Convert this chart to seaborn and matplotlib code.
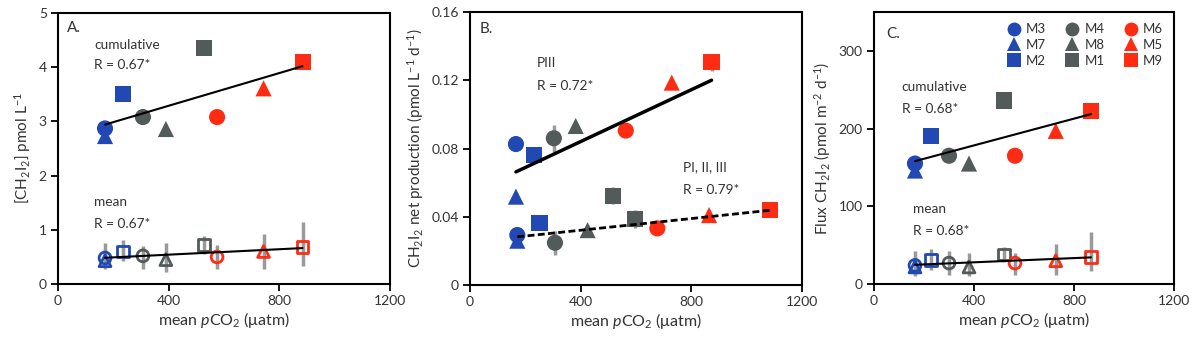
import numpy as np
import pandas as pd
import seaborn as sns
import matplotlib.pyplot as plt
from matplotlib.lines import Line2D

# mesocosm ids, colour group and marker shape
ids = ["M3", "M7", "M2", "M4", "M8", "M1", "M6", "M5", "M9"]
blue, gray, red = "#2248b4", "#535a5a", "#ff2c14"
id_colors = [blue, blue, blue, gray, gray, gray, red, red, red]
id_shapes = ["o", "^", "s", "o", "^", "s", "o", "^", "s"]

x_ticks = [0, 400, 800, 1200]
x_ticklabels = ["0", "400", "800", "1200"]

# Panel A: concentration
a_x = [170, 170, 235, 307, 390, 528, 575, 743, 884]
a_cum = [2.87, 2.73, 3.51, 3.08, 2.86, 4.36, 3.08, 3.61, 4.10]
a_mean = [0.48, 0.43, 0.60, 0.52, 0.45, 0.72, 0.50, 0.60, 0.68]
a_lo = [0.32, 0.28, 0.42, 0.27, 0.23, 0.55, 0.28, 0.27, 0.33]
a_hi = [0.76, 0.65, 0.81, 0.70, 0.76, 0.88, 0.72, 0.92, 1.15]
a_yticks = [0, 1, 2, 3, 4, 5]
a_yticklabels = ["0", "1", "2", "3", "4", "5"]

# Panel B: net production
b_up_x = [166, 166, 231, 303, 382, 518, 563, 729, 873]
b_up = [0.0826, 0.0518, 0.0762, 0.0860, 0.0932, 0.0524, 0.0905, 0.1186, 0.1305]
b_up_err = [0.002, 0.002, 0.002, 0.008, 0.002, 0.005, 0.002, 0.002, 0.005]
b_low_x = [171, 171, 251, 307, 425, 596, 677, 864, 1084]
b_low = [0.0293, 0.0260, 0.0362, 0.0248, 0.0322, 0.0387, 0.0332, 0.0410, 0.0440]
b_low_err = [0.002, 0.002, 0.002, 0.007, 0.002, 0.005, 0.002, 0.003, 0.004]
b_yticks = [0, 0.04, 0.08, 0.12, 0.16]
b_yticklabels = ["0", "0.04", "0.08", "0.12", "0.16"]

# Panel C: flux
c_x = [164, 164, 227, 300, 380, 520, 564, 727, 868]
c_cum = [155, 146, 190, 165, 155, 236, 165, 197, 223]
c_mean = [24, 22, 31, 27, 22, 38, 27, 30, 35]
c_lo = [10, 12, 18, 12, 10, 28, 12, 12, 17]
c_hi = [42, 35, 45, 42, 40, 48, 40, 52, 67]
c_yticks = [0, 100, 200, 300]
c_yticklabels = ["0", "100", "200", "300"]

sns.set_theme(style="ticks")
plt.rcParams["font.family"] = ["Lato", "DejaVu Sans"]
plt.rcParams["mathtext.fontset"] = "custom"
plt.rcParams["mathtext.rm"] = "Lato"
plt.rcParams["mathtext.it"] = "Lato:italic"

palette = dict(zip(ids, id_colors))
shapes = dict(zip(ids, id_shapes))
txt = "#333333"
note_fs = 9.8


def draw_points(ax, x, y, filled=True):
    df = pd.DataFrame({"x": x, "y": y, "id": ids})
    sns.scatterplot(data=df, x="x", y="y", hue="id", style="id",
                    hue_order=ids, style_order=ids, palette=palette,
                    markers=shapes, s=135 if filled else 72,
                    edgecolor="none", legend=False, ax=ax, zorder=3)
    if not filled:
        coll = ax.collections[-1]
        fc = coll.get_facecolors()
        coll.set_facecolors("none")
        coll.set_edgecolors(fc)
        coll.set_linewidths(2.0)


def draw_fit(ax, x, y, lw=1.5, ls="-"):
    sns.regplot(x=np.array(x), y=np.array(y), scatter=False, ci=None,
                color="black", line_kws=dict(lw=lw, ls=ls, zorder=4), ax=ax)


def style_axes(ax, yticks, yticklabels, ylim, ylabel):
    ax.set_xlim(0, 1200)
    ax.set_ylim(*ylim)
    ax.set_xticks(x_ticks)
    ax.set_xticklabels(x_ticklabels)
    ax.set_yticks(yticks)
    ax.set_yticklabels(yticklabels)
    ax.set_xlabel(r"mean $\it{p}$CO$_2$ ($\mathregular{\mu}$atm)", fontsize=11.5, color=txt, labelpad=2)
    ax.set_ylabel(ylabel, fontsize=11, color=txt, labelpad=4)
    ax.tick_params(direction="out", length=5, width=1.3, colors="black",
                   labelcolor=txt, labelsize=10, pad=3)
    for sp in ax.spines.values():
        sp.set_visible(True)
        sp.set_linewidth(1.5)
        sp.set_color("black")
    ax.grid(False)


fig = plt.figure(figsize=(12.03, 3.41), dpi=100)
axA = fig.add_axes([0.0482, 0.167, 0.2760, 0.795])
axB = fig.add_axes([0.3907, 0.164, 0.2760, 0.801])
axC = fig.add_axes([0.7265, 0.167, 0.2494, 0.798])

# ---- A ----
a_mean_arr = np.array(a_mean)
axA.errorbar(a_x, a_mean, yerr=[a_mean_arr - np.array(a_lo), np.array(a_hi) - a_mean_arr],
             fmt="none", ecolor="#9a9a9a", elinewidth=2.5, capsize=0, zorder=2)
draw_points(axA, a_x, a_cum, True)
draw_points(axA, a_x, a_mean, False)
draw_fit(axA, a_x, a_cum)
draw_fit(axA, a_x, a_mean)
style_axes(axA, a_yticks, a_yticklabels, (0, 5), r"[CH$_2$I$_2$] pmol L$^{-1}$")
axA.text(33, 4.72, "A.", fontsize=11, color=txt, va="center")
axA.text(131, 4.41, "cumulative", fontsize=note_fs, color=txt, va="center")
axA.text(131, 4.04, "R = 0.67*", fontsize=note_fs, color=txt, va="center")
axA.text(131, 1.51, "mean", fontsize=note_fs, color=txt, va="center")
axA.text(131, 1.11, "R = 0.67*", fontsize=note_fs, color=txt, va="center")

# ---- B ----
axB.errorbar(b_up_x, b_up, yerr=b_up_err, fmt="none", ecolor="#9a9a9a",
             elinewidth=2.5, capsize=0, zorder=2)
axB.errorbar(b_low_x, b_low, yerr=b_low_err, fmt="none", ecolor="#9a9a9a",
             elinewidth=2.5, capsize=0, zorder=2)
draw_points(axB, b_up_x, b_up, True)
draw_points(axB, b_low_x, b_low, True)
draw_fit(axB, b_up_x, b_up, lw=2.5)
draw_fit(axB, b_low_x, b_low, lw=2.0, ls=(0, (2.5, 1.2)))
style_axes(axB, b_yticks, b_yticklabels, (0, 0.16),
           r"CH$_2$I$_2$ net production (pmol L$^{-1}$ d$^{-1}$)")
axB.text(36, 0.150, "B.", fontsize=11, color=txt, va="center")
axB.text(241, 0.130, "PIII", fontsize=note_fs, color=txt, va="center")
axB.text(241, 0.1166, "R = 0.72*", fontsize=note_fs, color=txt, va="center")
axB.text(771, 0.0693, "PI, II, III", fontsize=note_fs, color=txt, va="center")
axB.text(771, 0.0557, "R = 0.79*", fontsize=note_fs, color=txt, va="center")

# ---- C ----
c_mean_arr = np.array(c_mean)
axC.errorbar(c_x, c_mean, yerr=[c_mean_arr - np.array(c_lo), np.array(c_hi) - c_mean_arr],
             fmt="none", ecolor="#9a9a9a", elinewidth=2.5, capsize=0, zorder=2)
draw_points(axC, c_x, c_cum, True)
draw_points(axC, c_x, c_mean, False)
draw_fit(axC, c_x, c_cum)
draw_fit(axC, c_x, c_mean)
style_axes(axC, c_yticks, c_yticklabels, (0, 350),
           r"Flux CH$_2$I$_2$ (pmol m$^{-2}$ d$^{-1}$)")
axC.text(48, 322, "C.", fontsize=11, color=txt, va="center")
axC.text(111, 253, "cumulative", fontsize=note_fs, color=txt, va="center")
axC.text(111, 225, "R = 0.68*", fontsize=note_fs, color=txt, va="center")
axC.text(157, 96, "mean", fontsize=note_fs, color=txt, va="center")
axC.text(157, 68, "R = 0.68*", fontsize=note_fs, color=txt, va="center")

handles = [Line2D([], [], ls="none", marker=shapes[i], color=palette[i],
                  markersize=10, markeredgewidth=0) for i in ids]
axC.legend(handles, ids, loc="upper right", ncol=3, frameon=False, fontsize=9.5,
           handlelength=1.0, handletextpad=0.4, columnspacing=1.5,
           labelspacing=0.28, borderaxespad=0.45, labelcolor=txt)

fig.savefig("out.png", dpi=100)
